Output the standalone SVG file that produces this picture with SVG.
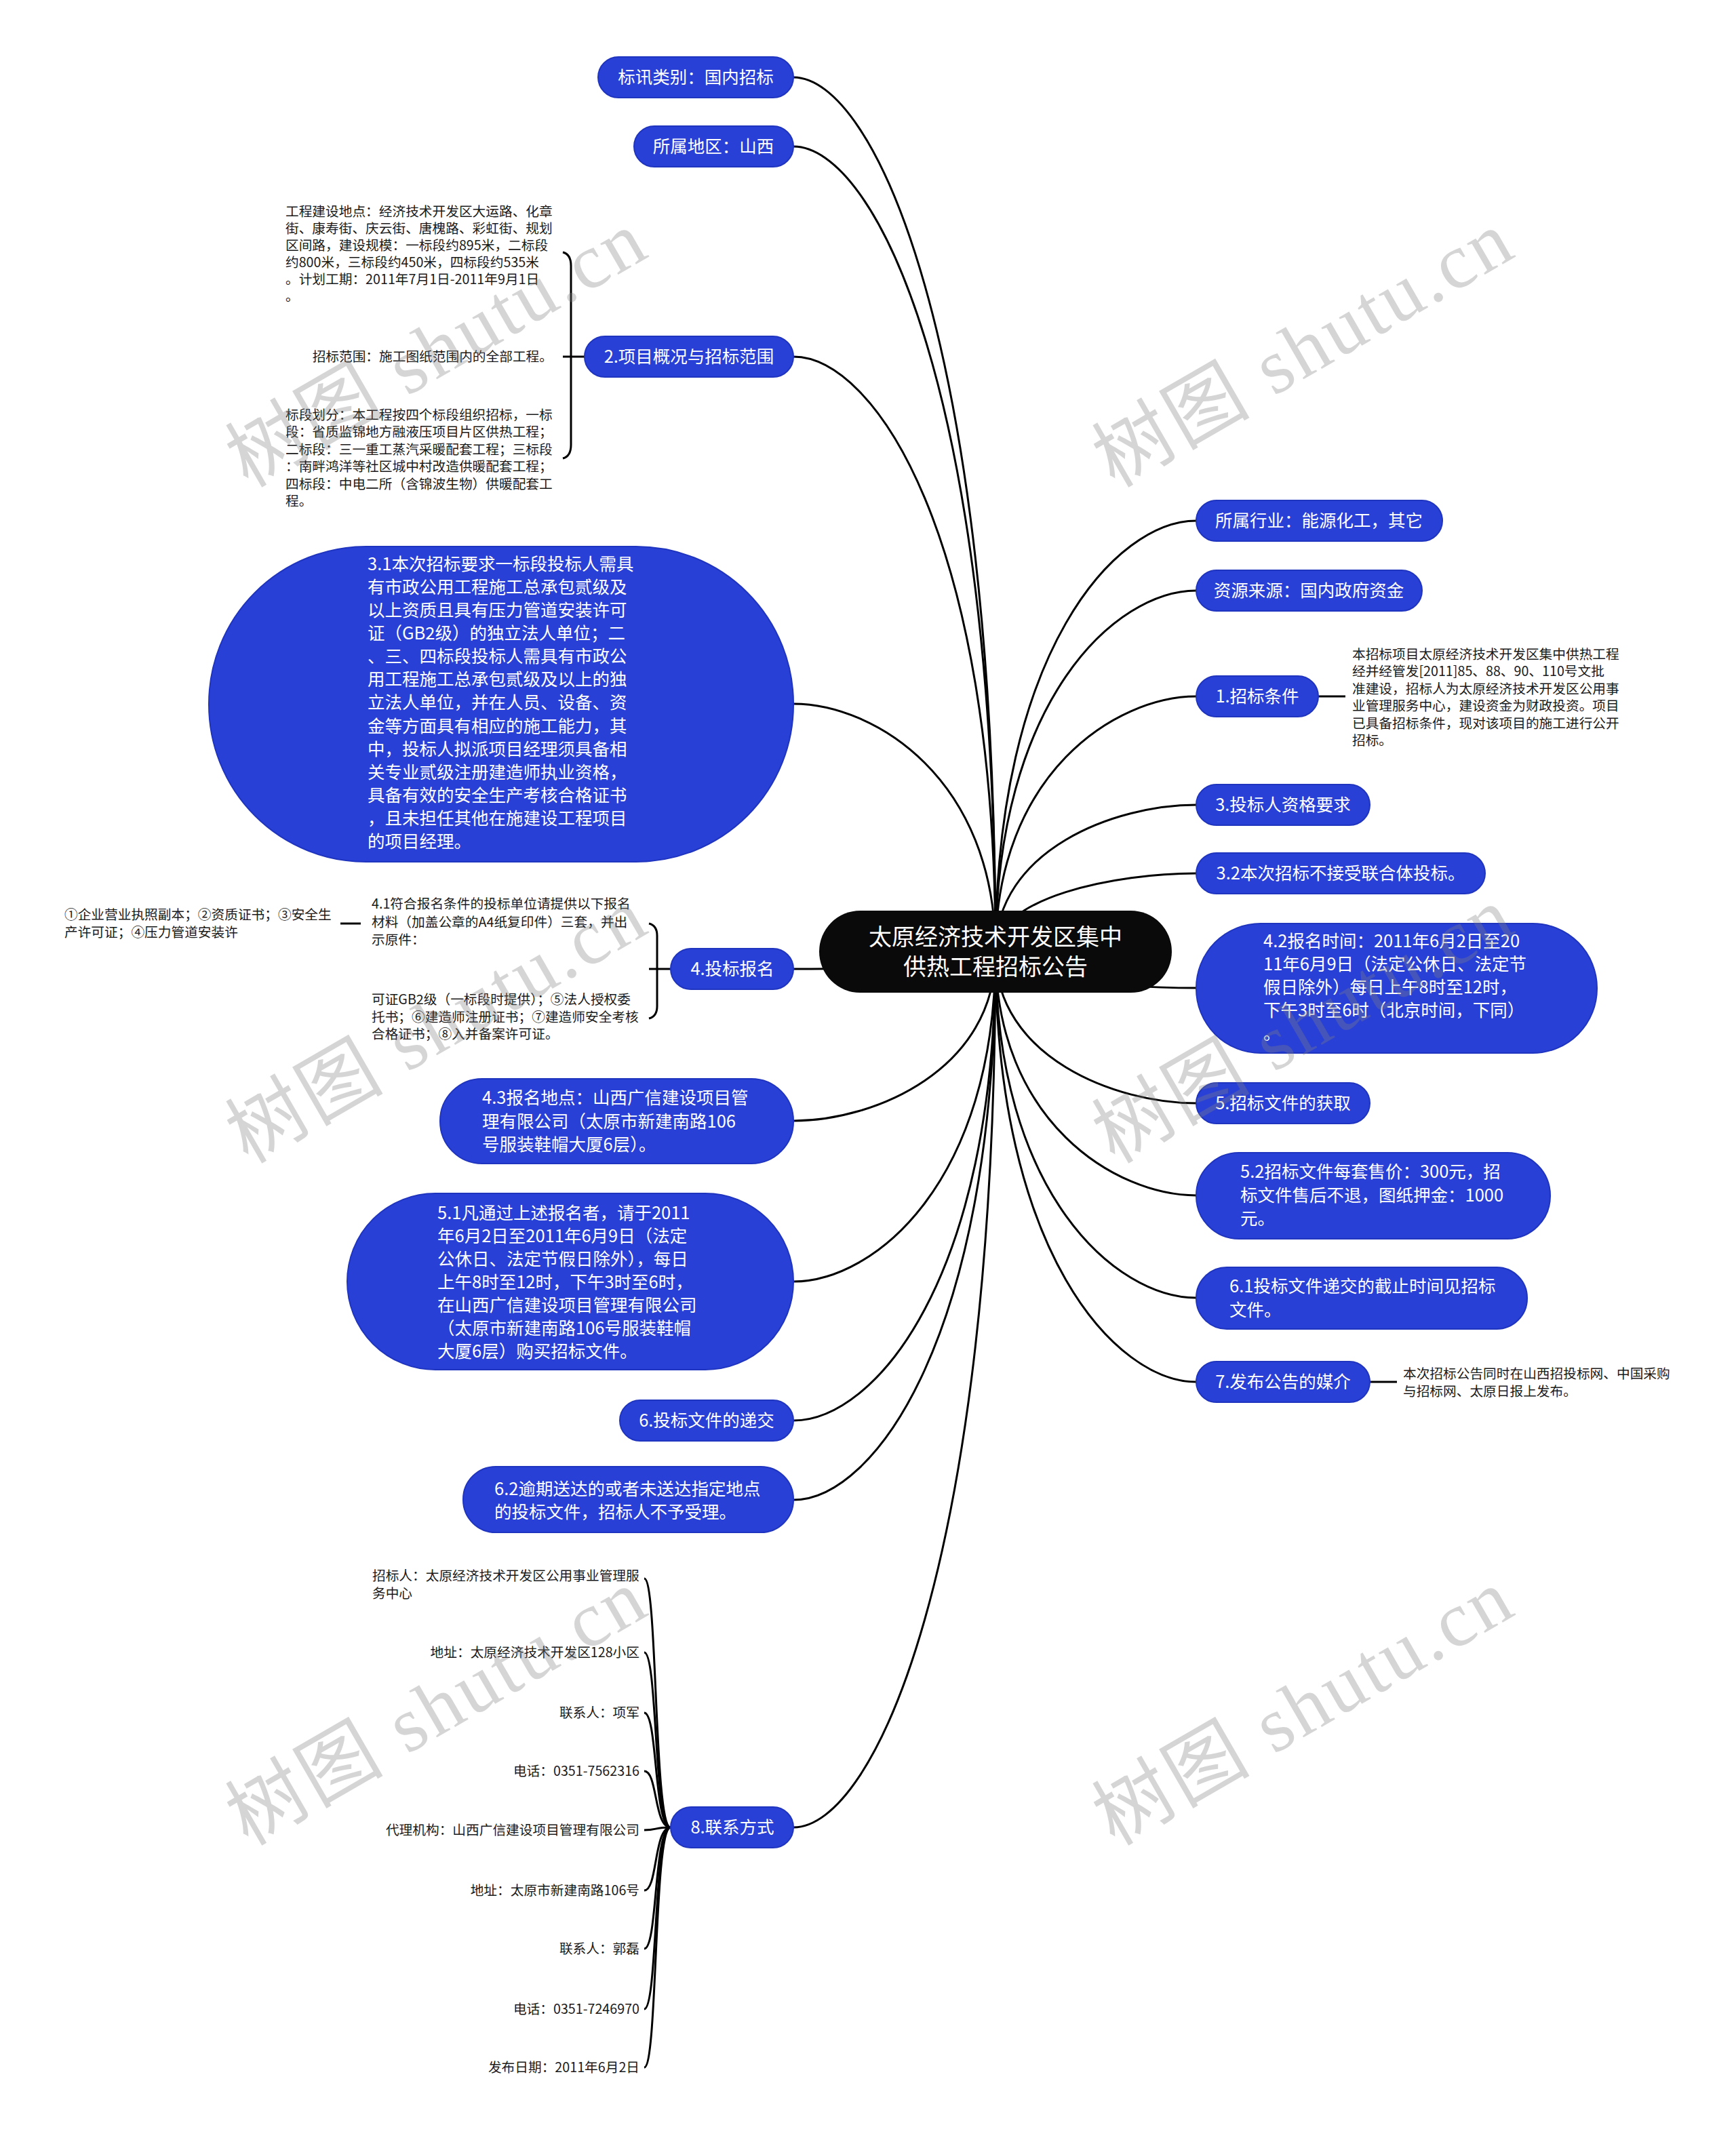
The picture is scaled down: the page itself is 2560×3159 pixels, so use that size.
<svg xmlns="http://www.w3.org/2000/svg" width="2560" height="3159" viewBox="0 0 2560 3159">
<style>
text{font-family:"Noto Sans CJK SC","Noto Sans",sans-serif}
.bn{fill:#2940D6;stroke:#1f34bf;stroke-width:2}
.nt{font-size:25.5px;fill:#ffffff}
.st{font-size:19.7px;fill:#1a1a1a}
.ct{font-size:34px;fill:#ffffff}
.conn path{fill:none;stroke:#000;stroke-width:3}
.wm{font-family:"Liberation Serif","Noto Sans CJK SC",serif;font-size:115px;fill:#808080;fill-opacity:0.33;letter-spacing:4px}
</style>
<rect width="2560" height="3159" fill="#ffffff"/>
<g id="connectors" class="conn">
<path d="M1170,114 C1289,114 1468,501 1468,1404"/>
<path d="M1170,216 C1289,216 1468,572 1468,1404"/>
<path d="M1170,526 C1289,526 1468,789 1468,1404"/>
<path d="M1170,1038 C1289,1038 1468,1148 1468,1404"/>
<path d="M1170,1429 C1289,1429 1468,1421 1468,1404"/>
<path d="M1170,1653 C1289,1653 1468,1578 1468,1404"/>
<path d="M1170,1890 C1289,1890 1468,1744 1468,1404"/>
<path d="M1170,2095 C1289,2095 1468,1888 1468,1404"/>
<path d="M1170,2212 C1289,2212 1468,1970 1468,1404"/>
<path d="M1170,2695 C1289,2695 1468,2308 1468,1404"/>
<path d="M1764,768 C1646,768 1468,959 1468,1404"/>
<path d="M1764,871 C1646,871 1468,1031 1468,1404"/>
<path d="M1764,1027 C1646,1027 1468,1140 1468,1404"/>
<path d="M1764,1187 C1646,1187 1468,1252 1468,1404"/>
<path d="M1764,1288 C1646,1288 1468,1323 1468,1404"/>
<path d="M1764,1457 C1646,1457 1468,1441 1468,1404"/>
<path d="M1764,1627 C1646,1627 1468,1560 1468,1404"/>
<path d="M1764,1763 C1646,1763 1468,1655 1468,1404"/>
<path d="M1764,1914 C1646,1914 1468,1761 1468,1404"/>
<path d="M1764,2038 C1646,2038 1468,1848 1468,1404"/>
<!-- sub connectors -->
<path d="M830,372 Q842,375 842,392 L842,656 Q842,673 830,676"/>
<path d="M830,526 L862,526"/>
<path d="M957,1362 Q969,1365 969,1380 L969,1484 Q969,1499 957,1502"/>
<path d="M957,1429 L989,1429"/>
<path d="M502,1362 L532,1362"/>
<path d="M1944,1027 L1984,1027"/>
<path d="M2020,2038 L2060,2038"/>
<path d="M950,2328 C970,2328 964,2695 989,2695"/>
<path d="M950,2437 C970,2437 964,2695 989,2695"/>
<path d="M950,2526 C970,2526 964,2695 989,2695"/>
<path d="M950,2612 C970,2612 964,2695 989,2695"/>
<path d="M950,2699 C970,2699 964,2695 989,2695"/>
<path d="M950,2788 C970,2788 964,2695 989,2695"/>
<path d="M950,2874 C970,2874 964,2695 989,2695"/>
<path d="M950,2963 C970,2963 964,2695 989,2695"/>
<path d="M950,3049 C970,3049 964,2695 989,2695"/>
</g>

<g id="center">
<rect x="1208" y="1343" width="520" height="121" rx="60.5" fill="#0a0a0a"/>
<text class="ct" text-anchor="middle"><tspan x="1468" y="1394">太原经济技术开发区集中</tspan><tspan x="1468" y="1438">供热工程招标公告</tspan></text>
</g>

<g id="n-biaoxun"><rect class="bn" x="882" y="84" width="288" height="60" rx="30"/><text class="nt" x="1026" y="123" text-anchor="middle">标讯类别：国内招标</text></g>
<g id="n-diqu"><rect class="bn" x="935" y="186" width="235" height="60" rx="30"/><text class="nt" x="1052" y="225" text-anchor="middle">所属地区：山西</text></g>
<g id="n-2"><rect class="bn" x="862" y="496" width="308" height="60" rx="30"/><text class="nt" x="1016" y="535" text-anchor="middle">2.项目概况与招标范围</text></g>
<g id="n-2-a"><text class="st"><tspan x="421" y="319">工程建设地点：经济技术开发区大运路、化章</tspan><tspan x="421" dy="25">街、康寿街、庆云街、唐槐路、彩虹街、规划</tspan><tspan x="421" dy="25">区间路，建设规模：一标段约895米，二标段</tspan><tspan x="421" dy="25">约800米，三标段约450米，四标段约535米</tspan><tspan x="421" dy="25">。计划工期：2011年7月1日-2011年9月1日</tspan><tspan x="421" dy="25">。</tspan></text></g>
<g id="n-2-b"><text class="st" x="815" y="533" text-anchor="end">招标范围：施工图纸范围内的全部工程。</text></g>
<g id="n-2-c"><text class="st"><tspan x="421" y="619">标段划分：本工程按四个标段组织招标，一标</tspan><tspan x="421" dy="25.4">段：省质监锦地方融液压项目片区供热工程；</tspan><tspan x="421" dy="25.4">二标段：三一重工蒸汽采暖配套工程；三标段</tspan><tspan x="421" dy="25.4">：南畔鸿洋等社区城中村改造供暖配套工程；</tspan><tspan x="421" dy="25.4">四标段：中电二所（含锦波生物）供暖配套工</tspan><tspan x="421" dy="25.4">程。</tspan></text></g>

<g id="n-3-1"><rect class="bn" x="308" y="806" width="862" height="465" rx="232"/><text class="nt"><tspan x="542" y="841">3.1本次招标要求一标段投标人需具</tspan><tspan x="542" dy="34.08">有市政公用工程施工总承包贰级及</tspan><tspan x="542" dy="34.08">以上资质且具有压力管道安装许可</tspan><tspan x="542" dy="34.08">证（GB2级）的独立法人单位；二</tspan><tspan x="542" dy="34.08">、三、四标段投标人需具有市政公</tspan><tspan x="542" dy="34.08">用工程施工总承包贰级及以上的独</tspan><tspan x="542" dy="34.08">立法人单位，并在人员、设备、资</tspan><tspan x="542" dy="34.08">金等方面具有相应的施工能力，其</tspan><tspan x="542" dy="34.08">中，投标人拟派项目经理须具备相</tspan><tspan x="542" dy="34.08">关专业贰级注册建造师执业资格，</tspan><tspan x="542" dy="34.08">具备有效的安全生产考核合格证书</tspan><tspan x="542" dy="34.08">，且未担任其他在施建设工程项目</tspan><tspan x="542" dy="34.08">的项目经理。</tspan></text></g>

<g id="n-4"><rect class="bn" x="989" y="1399" width="181" height="60" rx="30"/><text class="nt" x="1080" y="1438" text-anchor="middle">4.投标报名</text></g>
<g id="n-4-1"><text class="st"><tspan x="548" y="1340">4.1符合报名条件的投标单位请提供以下报名</tspan><tspan x="548" dy="26.5">材料（加盖公章的A4纸复印件）三套，并出</tspan><tspan x="548" dy="26.5">示原件：</tspan></text></g>
<g id="n-4-1-a"><text class="st"><tspan x="95" y="1356">①企业营业执照副本；②资质证书；③安全生</tspan><tspan x="95" dy="26">产许可证；④压力管道安装许</tspan></text></g>
<g id="n-4-b"><text class="st"><tspan x="548" y="1481">可证GB2级（一标段时提供）；⑤法人授权委</tspan><tspan x="548" dy="25.7">托书；⑥建造师注册证书；⑦建造师安全考核</tspan><tspan x="548" dy="25.7">合格证书；⑧入并备案许可证。</tspan></text></g>

<g id="n-4-3"><rect class="bn" x="649" y="1591" width="521" height="125" rx="62"/><text class="nt"><tspan x="711" y="1628">4.3报名地点：山西广信建设项目管</tspan><tspan x="711" dy="34.5">理有限公司（太原市新建南路106</tspan><tspan x="711" dy="34.5">号服装鞋帽大厦6层）。</tspan></text></g>
<g id="n-5-1"><rect class="bn" x="512" y="1760" width="658" height="260" rx="130"/><text class="nt"><tspan x="645" y="1798">5.1凡通过上述报名者，请于2011</tspan><tspan x="645" dy="34">年6月2日至2011年6月9日（法定</tspan><tspan x="645" dy="34">公休日、法定节假日除外），每日</tspan><tspan x="645" dy="34">上午8时至12时，下午3时至6时，</tspan><tspan x="645" dy="34">在山西广信建设项目管理有限公司</tspan><tspan x="645" dy="34">（太原市新建南路106号服装鞋帽</tspan><tspan x="645" dy="34">大厦6层）购买招标文件。</tspan></text></g>
<g id="n-6"><rect class="bn" x="914" y="2065" width="256" height="60" rx="30"/><text class="nt" x="1042" y="2104" text-anchor="middle">6.投标文件的递交</text></g>
<g id="n-6-2"><rect class="bn" x="683" y="2163" width="487" height="97" rx="48"/><text class="nt"><tspan x="729" y="2205">6.2逾期送达的或者未送达指定地点</tspan><tspan x="729" dy="34">的投标文件，招标人不予受理。</tspan></text></g>

<g id="n-8"><rect class="bn" x="989" y="2665" width="181" height="60" rx="30"/><text class="nt" x="1080" y="2704" text-anchor="middle">8.联系方式</text></g>
<g id="n-8-children" class="st">
<text class="st"><tspan x="549" y="2331">招标人：太原经济技术开发区公用事业管理服</tspan><tspan x="549" dy="26">务中心</tspan></text>
<text class="st" x="943" y="2444" text-anchor="end">地址：太原经济技术开发区128小区</text>
<text class="st" x="943" y="2533" text-anchor="end">联系人：项军</text>
<text class="st" x="943" y="2619" text-anchor="end">电话：0351-7562316</text>
<text class="st" x="943" y="2706" text-anchor="end">代理机构：山西广信建设项目管理有限公司</text>
<text class="st" x="943" y="2795" text-anchor="end">地址：太原市新建南路106号</text>
<text class="st" x="943" y="2881" text-anchor="end">联系人：郭磊</text>
<text class="st" x="943" y="2970" text-anchor="end">电话：0351-7246970</text>
<text class="st" x="943" y="3056" text-anchor="end">发布日期：2011年6月2日</text>
</g>

<g id="r-hangye"><rect class="bn" x="1764" y="738" width="363" height="60" rx="30"/><text class="nt" x="1945" y="777" text-anchor="middle">所属行业：能源化工，其它</text></g>
<g id="r-ziyuan"><rect class="bn" x="1764" y="841" width="333" height="60" rx="30"/><text class="nt" x="1930" y="880" text-anchor="middle">资源来源：国内政府资金</text></g>
<g id="r-1"><rect class="bn" x="1764" y="997" width="180" height="60" rx="30"/><text class="nt" x="1854" y="1036" text-anchor="middle">1.招标条件</text></g>
<g id="r-1-a"><text class="st"><tspan x="1994" y="972">本招标项目太原经济技术开发区集中供热工程</tspan><tspan x="1994" dy="25.4">经并经管发[2011]85、88、90、110号文批</tspan><tspan x="1994" dy="25.4">准建设，招标人为太原经济技术开发区公用事</tspan><tspan x="1994" dy="25.4">业管理服务中心，建设资金为财政投资。项目</tspan><tspan x="1994" dy="25.4">已具备招标条件，现对该项目的施工进行公开</tspan><tspan x="1994" dy="25.4">招标。</tspan></text></g>
<g id="r-3"><rect class="bn" x="1764" y="1157" width="256" height="60" rx="30"/><text class="nt" x="1892" y="1196" text-anchor="middle">3.投标人资格要求</text></g>
<g id="r-3-2"><rect class="bn" x="1764" y="1258" width="426" height="60" rx="30"/><text class="nt" x="1977" y="1297" text-anchor="middle">3.2本次招标不接受联合体投标。</text></g>
<g id="r-4-2"><rect class="bn" x="1764" y="1362" width="591" height="191" rx="95"/><text class="nt"><tspan x="1863" y="1397">4.2报名时间：2011年6月2日至20</tspan><tspan x="1863" dy="34">11年6月9日（法定公休日、法定节</tspan><tspan x="1863" dy="34">假日除外）每日上午8时至12时，</tspan><tspan x="1863" dy="34">下午3时至6时（北京时间，下同）</tspan><tspan x="1863" dy="34">。</tspan></text></g>
<g id="r-5"><rect class="bn" x="1764" y="1597" width="256" height="60" rx="30"/><text class="nt" x="1892" y="1636" text-anchor="middle">5.招标文件的获取</text></g>
<g id="r-5-2"><rect class="bn" x="1764" y="1700" width="522" height="127" rx="63"/><text class="nt"><tspan x="1829" y="1737">5.2招标文件每套售价：300元，招</tspan><tspan x="1829" dy="34.5">标文件售后不退，图纸押金：1000</tspan><tspan x="1829" dy="34.5">元。</tspan></text></g>
<g id="r-6-1"><rect class="bn" x="1764" y="1869" width="488" height="91" rx="45"/><text class="nt"><tspan x="1813" y="1906">6.1投标文件递交的截止时间见招标</tspan><tspan x="1813" dy="34.5">文件。</tspan></text></g>
<g id="r-7"><rect class="bn" x="1764" y="2008" width="256" height="60" rx="30"/><text class="nt" x="1892" y="2047" text-anchor="middle">7.发布公告的媒介</text></g>
<g id="r-7-a"><text class="st"><tspan x="2069" y="2033">本次招标公告同时在山西招投标网、中国采购</tspan><tspan x="2069" dy="26">与招标网、太原日报上发布。</tspan></text></g>

<g id="watermarks">
<text class="wm" transform="translate(645,515) rotate(-30)" x="0" y="38" text-anchor="middle">树图 shutu.cn</text>
<text class="wm" transform="translate(1923,515) rotate(-30)" x="0" y="38" text-anchor="middle">树图 shutu.cn</text>
<text class="wm" transform="translate(645,1512) rotate(-30)" x="0" y="38" text-anchor="middle">树图 shutu.cn</text>
<text class="wm" transform="translate(1923,1512) rotate(-30)" x="0" y="38" text-anchor="middle">树图 shutu.cn</text>
<text class="wm" transform="translate(645,2518) rotate(-30)" x="0" y="38" text-anchor="middle">树图 shutu.cn</text>
<text class="wm" transform="translate(1923,2518) rotate(-30)" x="0" y="38" text-anchor="middle">树图 shutu.cn</text>
</g>
</svg>
